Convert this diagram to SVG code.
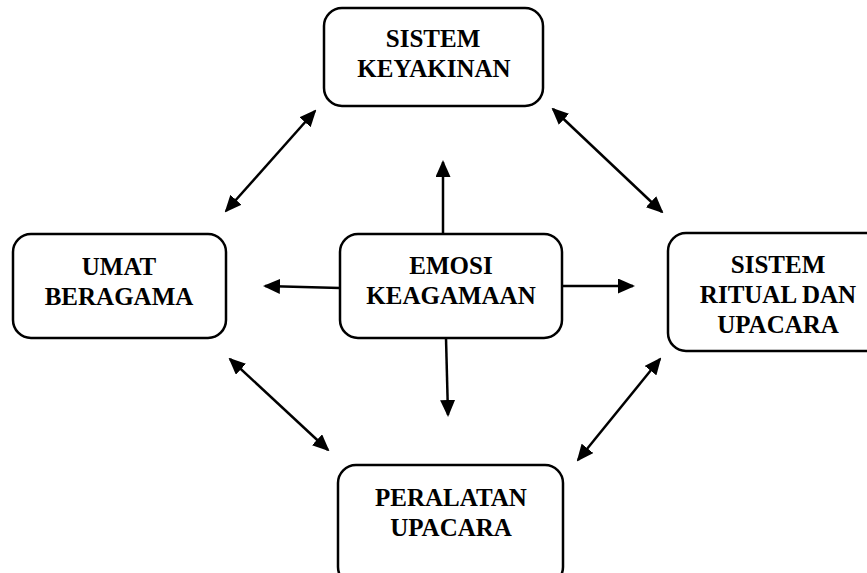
<svg xmlns="http://www.w3.org/2000/svg" width="867" height="573" viewBox="0 0 867 573">
<style>
.box{fill:#fff;stroke:#000;stroke-width:2.5}
.t{font-family:"Liberation Serif","Times New Roman",serif;font-weight:bold;font-size:25px;fill:#000;text-anchor:middle}
.c{stroke:#000;stroke-width:2.5;fill:none}
</style>
<defs>
<marker id="ah" markerUnits="userSpaceOnUse" markerWidth="17" markerHeight="15" viewBox="0 0 17 15" refX="15" refY="7.5" orient="auto-start-reverse">
<path d="M0,0 L17,7.5 L0,15 z" fill="#000"/>
</marker>
</defs>
<rect width="867" height="573" fill="#fff"/>
<g id="connectors">
<line class="c" x1="443" y1="234" x2="443" y2="162" marker-end="url(#ah)"/>
<line class="c" x1="340" y1="288" x2="265" y2="286" marker-end="url(#ah)"/>
<line class="c" x1="562" y1="286" x2="633" y2="286" marker-end="url(#ah)"/>
<line class="c" x1="446" y1="338" x2="448" y2="415" marker-end="url(#ah)"/>
<line class="c" x1="226" y1="211" x2="315" y2="111" marker-start="url(#ah)" marker-end="url(#ah)"/>
<line class="c" x1="553" y1="109" x2="662" y2="212" marker-start="url(#ah)" marker-end="url(#ah)"/>
<line class="c" x1="230" y1="359" x2="328" y2="450" marker-start="url(#ah)" marker-end="url(#ah)"/>
<line class="c" x1="660" y1="359" x2="578" y2="460" marker-start="url(#ah)" marker-end="url(#ah)"/>
</g>
<g id="sistem-keyakinan">
<rect class="box" x="324" y="8" width="219" height="98" rx="18"/>
<text class="t" x="433" y="47">SISTEM</text>
<text class="t" x="434" y="77">KEYAKINAN</text>
</g>
<g id="umat-beragama">
<rect class="box" x="13" y="234" width="213" height="104" rx="18"/>
<text class="t" x="119" y="275">UMAT</text>
<text class="t" x="119" y="305">BERAGAMA</text>
</g>
<g id="emosi-keagamaan">
<rect class="box" x="340" y="234" width="222" height="104" rx="18"/>
<text class="t" x="451" y="274">EMOSI</text>
<text class="t" x="451" y="304">KEAGAMAAN</text>
</g>
<g id="sistem-ritual">
<rect class="box" x="668" y="233" width="222" height="118" rx="18"/>
<text class="t" x="778" y="273">SISTEM</text>
<text class="t" x="778" y="303">RITUAL DAN</text>
<text class="t" x="778" y="333">UPACARA</text>
</g>
<g id="peralatan-upacara">
<rect class="box" x="338" y="465" width="225" height="120" rx="18"/>
<text class="t" x="451" y="506">PERALATAN</text>
<text class="t" x="451" y="536">UPACARA</text>
</g>
</svg>
